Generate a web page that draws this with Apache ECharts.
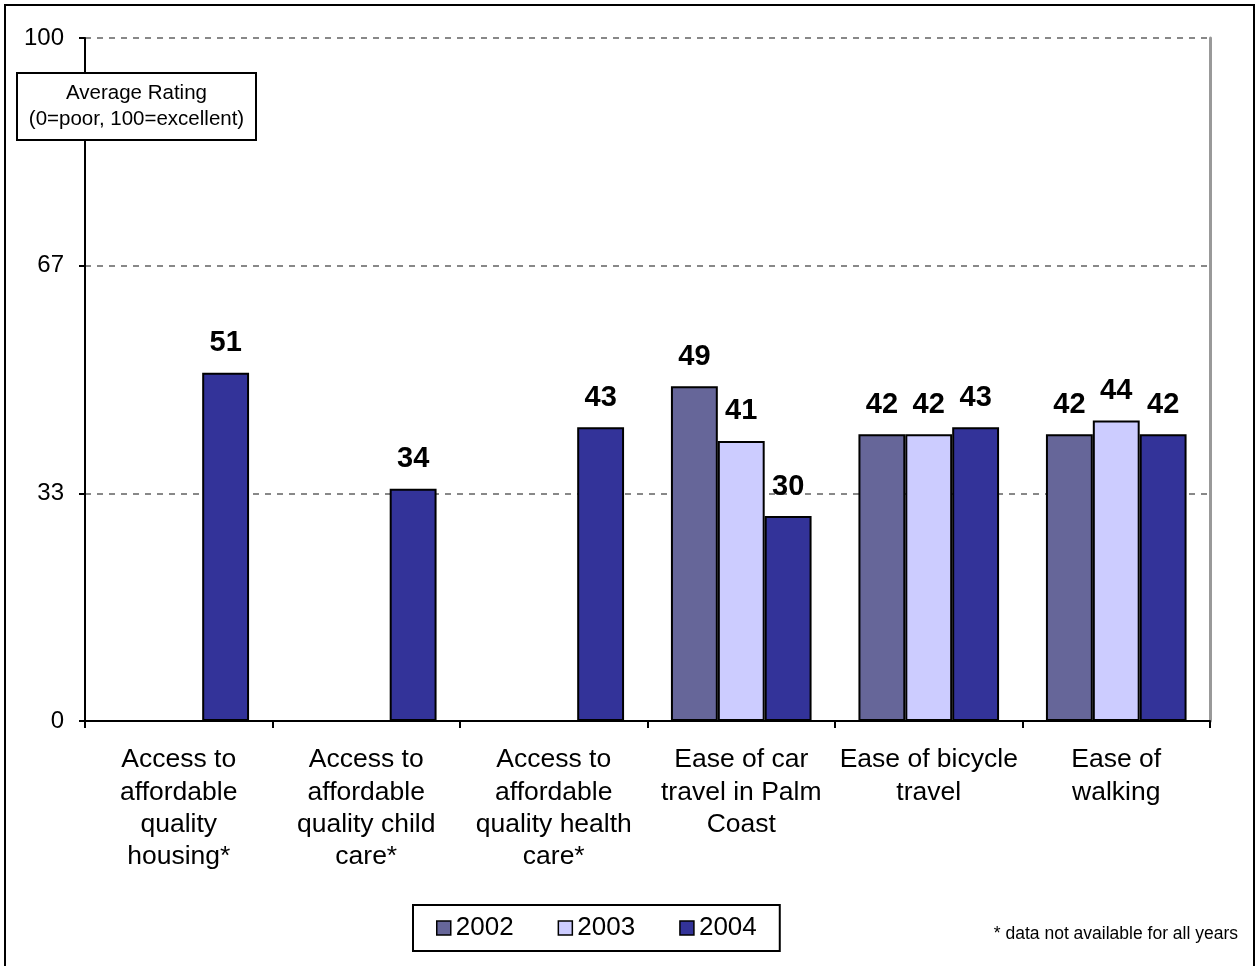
<!DOCTYPE html>
<html>
<head>
<meta charset="utf-8">
<script src="https://cdn.jsdelivr.net/npm/echarts@6/dist/echarts.min.js"></script>
<style>
html,body{margin:0;padding:0;background:#fff;}
#chart{width:1256px;height:966px;}
</style>
</head>
<body>
<div id="chart"></div>
<script>
const categories = [
  'Access to\naffordable\nquality\nhousing*',
  'Access to\naffordable\nquality child\ncare*',
  'Access to\naffordable\nquality health\ncare*',
  'Ease of car\ntravel in Palm\nCoast',
  'Ease of bicycle\ntravel',
  'Ease of\nwalking'
];
const seriesNames = ['2002', '2003', '2004'];
const values2002 = [null, null, null, 49, 42, 42];
const values2003 = [null, null, null, 41, 42, 44];
const values2004 = [51, 34, 43, 30, 43, 42];
const colors = ['#666699', '#CCCCFF', '#333399'];

const FONT = 'Liberation Sans, Arial, sans-serif';
const chart = echarts.init(document.getElementById('chart'));

function bar(name, data, color) {
  return {
    name: name,
    type: 'bar',
    data: data,
    barGap: '0%',
    barCategoryGap: '25%',
    itemStyle: { color: color, borderColor: '#000', borderWidth: 2 },
    label: {
      show: true,
      position: 'top',
      distance: 15,
      color: '#000',
      fontFamily: FONT,
      fontWeight: 'bold',
      fontSize: 29,
      formatter: p => Math.round(p.value)
    },
    emphasis: { disabled: true }
  };
}

chart.setOption({
  animation: false,
  backgroundColor: '#fff',
  textStyle: { fontFamily: FONT },
  grid: { left: 85, right: 46, top: 38, bottom: 245, containLabel: false },
  legend: {
    data: seriesNames,
    bottom: 15,
    left: 413,
    icon: 'rect',
    itemWidth: 14,
    itemHeight: 14,
    itemGap: 44,
    padding: [10, 23, 10, 23],
    borderColor: '#000',
    borderWidth: 2,
    textStyle: { fontSize: 26, color: '#000', fontFamily: FONT, padding: [0, 0, 0, 0] },
    itemStyle: { borderColor: '#000', borderWidth: 1.5 },
    selectedMode: false
  },
  xAxis: {
    type: 'category',
    data: categories,
    axisLine: { lineStyle: { color: '#000', width: 2 } },
    axisTick: { show: true, length: 7, lineStyle: { color: '#000', width: 2 } },
    axisLabel: {
      color: '#000',
      fontSize: 26.5,
      fontFamily: FONT,
      lineHeight: 32.3,
      margin: 23,
      interval: 0
    }
  },
  yAxis: [{
    type: 'value',
    min: 0,
    max: 100,
    interval: 100 / 3,
    axisLine: { show: true, lineStyle: { color: '#000', width: 2 } },
    axisTick: { show: true, length: 6, lineStyle: { color: '#000', width: 2 } },
    axisLabel: {
      color: '#000',
      fontSize: 24,
      fontFamily: FONT,
      margin: 21,
      formatter: v => String(Math.round(v))
    },
    splitLine: { show: true, lineStyle: { color: '#888', width: 2, type: [6, 6] } }
  }, {
    type: 'value',
    min: 0,
    max: 100,
    interval: 100 / 3,
    position: 'right',
    axisLine: { show: true, lineStyle: { color: '#999', width: 3 } },
    axisTick: { show: false },
    axisLabel: { show: false },
    splitLine: { show: false }
  }],
  series: [
    bar(seriesNames[0], values2002, colors[0]),
    bar(seriesNames[1], values2003, colors[1]),
    bar(seriesNames[2], values2004, colors[2])
  ],
  graphic: [
    {
      type: 'rect',
      zlevel: 1,
      shape: { x: 5, y: 5, width: 1249, height: 970 },
      style: { fill: null, stroke: '#000', lineWidth: 2 }
    },
    {
      type: 'rect',
      zlevel: 1,
      shape: { x: 17, y: 73, width: 239, height: 67 },
      style: { fill: '#fff', stroke: '#000', lineWidth: 2 }
    },
    {
      type: 'text',
      zlevel: 1,
      z: 10,
      x: 136.5,
      y: 106.5,
      style: {
        text: 'Average Rating\n(0=poor, 100=excellent)',
        fontSize: 20.5,
        fontFamily: FONT,
        lineHeight: 26,
        fill: '#000',
        align: 'center',
        verticalAlign: 'middle'
      }
    },
    {
      type: 'text',
      zlevel: 1,
      x: 1238,
      y: 934,
      style: {
        text: '* data not available for all years',
        fontSize: 17.5,
        fontFamily: FONT,
        fill: '#000',
        align: 'right',
        verticalAlign: 'middle'
      }
    }
  ]
});
</script>
</body>
</html>
